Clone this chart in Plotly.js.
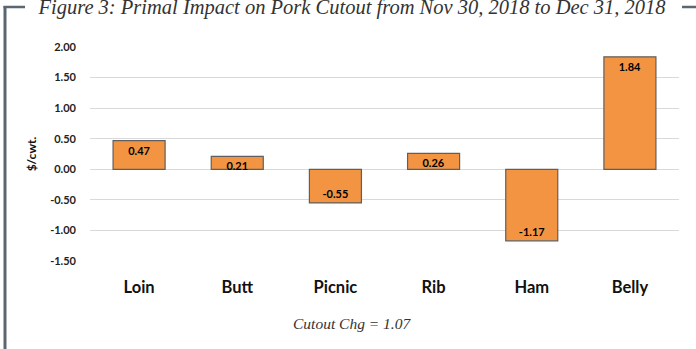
<!DOCTYPE html>
<html>
<head>
<meta charset="utf-8">
<script src="https://cdn.plot.ly/plotly-3.0.1.min.js"></script>
<style>
  html, body { margin: 0; padding: 0; background: #ffffff; }
  #chart { width: 696px; height: 349px; }
</style>
</head>
<body>
<div id="chart"></div>
<script>
// Data
const categories = ["Loin", "Butt", "Picnic", "Rib", "Ham", "Belly"];
const changes = [0.47, 0.21, -0.55, 0.26, -1.17, 1.84];
const valueLabels = ["0.47", "0.21", "-0.55", "0.26", "-1.17", "1.84"];
const yTickValues = [-1.5, -1.0, -0.5, 0.0, 0.5, 1.0, 1.5, 2.0];
const yTickLabels = ["-1.50", "-1.00", "-0.50", "0.00", "0.50", "1.00", "1.50", "2.00"];
const titleText = "Figure 3: Primal Impact on Pork Cutout from Nov 30, 2018 to Dec 31, 2018";
const noteText = "Cutout Chg = 1.07";
const yTitle = "$/cwt.";

// Layout geometry (pixels)
const W = 696, H = 349;
const L = 90, R = 17, T = 47, B = 88;
const pw = W - L - R, ph = H - T - B;
const px = x => (x - L) / pw;
const py = y => (H - B - y) / ph;

const frameColor = "#5b6670";
const boldFont = "Lato, 'Open Sans', sans-serif";
const serifFont = "'Liberation Serif', 'DejaVu Serif', serif";

const trace = {
  type: "bar",
  x: categories,
  y: changes,
  text: valueLabels,
  textposition: "inside",
  insidetextanchor: "end",
  constraintext: "none",
  textfont: { family: boldFont, size: 11, color: "#000000", weight: "bold" },
  marker: { color: "#F39443", line: { color: "#5f5f5f", width: 1.2 } },
  width: 0.53,
  hoverinfo: "x+y"
};

const layout = {
  width: W, height: H,
  margin: { l: L, r: R, t: T, b: B },
  paper_bgcolor: "#ffffff",
  plot_bgcolor: "#ffffff",
  showlegend: false,
  title: {
    text: titleText,
    font: { family: serifFont, size: 20.5, color: "#333333", style: "italic" },
    x: 352 / W,
    xanchor: "center",
    xref: "container",
    yref: "container",
    y: 1 - 6.5 / H,
    yanchor: "middle"
  },
  xaxis: {
    type: "category",
    showgrid: false,
    showline: false,
    zeroline: false,
    ticks: "",
    ticklabelstandoff: 14,
    tickfont: { family: boldFont, size: 16.5, color: "#111111", weight: "bold" },
    fixedrange: true
  },
  yaxis: {
    range: [-1.5, 2.0],
    tickvals: yTickValues,
    ticktext: yTickLabels,
    showgrid: true,
    gridcolor: "#d9d9d9",
    gridwidth: 1,
    zeroline: true,
    zerolinecolor: "#d9d9d9",
    zerolinewidth: 1,
    showline: false,
    ticks: "",
    ticklabelstandoff: 13,
    tickfont: { family: boldFont, size: 11, color: "#222222", weight: "bold" },
    title: {
      text: yTitle,
      font: { family: boldFont, size: 12, color: "#111111", weight: "bold" },
      standoff: 10
    },
    fixedrange: true
  },
  annotations: [
    {
      text: noteText,
      xref: "paper", yref: "paper",
      x: px(352), y: py(323),
      xanchor: "center", yanchor: "middle",
      showarrow: false,
      font: { family: serifFont, size: 15.5, color: "#333333", style: "italic" }
    }
  ],
  shapes: [
    { type: "line", xref: "paper", yref: "paper", x0: px(5), x1: px(5), y0: py(6), y1: py(352), line: { color: frameColor, width: 3 } },
    { type: "line", xref: "paper", yref: "paper", x0: px(3.5), x1: px(25), y0: py(7), y1: py(7), line: { color: frameColor, width: 2.5 } },
    { type: "line", xref: "paper", yref: "paper", x0: px(682), x1: px(698), y0: py(7), y1: py(7), line: { color: frameColor, width: 2.5 } }
  ]
};

Plotly.newPlot("chart", [trace], layout, { displayModeBar: false, staticPlot: true });
</script>
</body>
</html>
